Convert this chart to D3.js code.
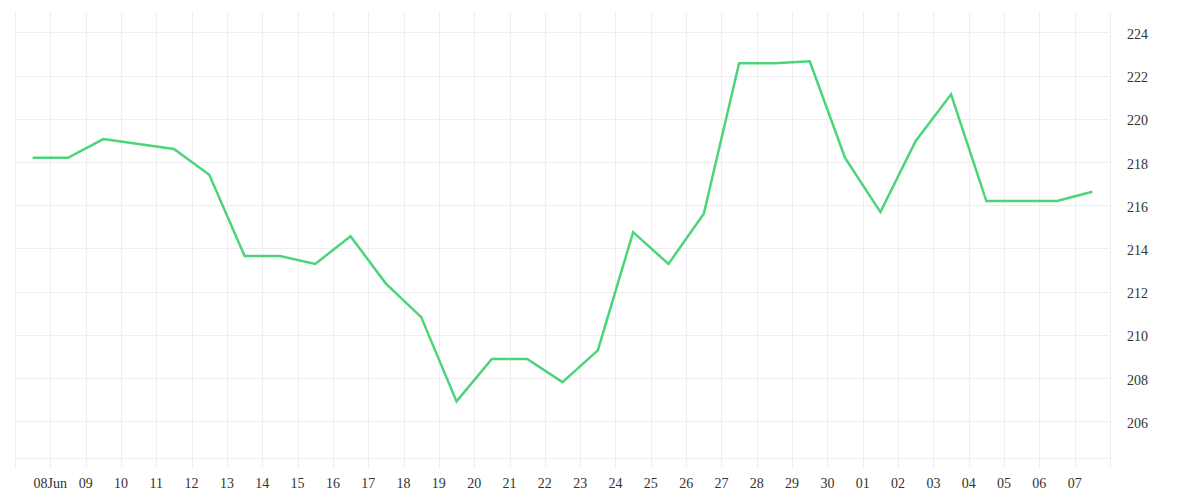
<!DOCTYPE html>
<html>
<head>
<meta charset="utf-8">
<script src="https://cdn.jsdelivr.net/npm/d3@7"></script>
<style>
  html, body { margin: 0; padding: 0; background: #ffffff; }
  svg { display: block; }
  text { font-family: "Liberation Serif", serif; font-size: 14px; fill: #333333; }
</style>
</head>
<body>
<svg id="chart" width="1200" height="500"></svg>
<script>
// Data: one point per day (plotted at midday)
const dates = [
  "2023-06-07","2023-06-08","2023-06-09","2023-06-10","2023-06-11","2023-06-12",
  "2023-06-13","2023-06-14","2023-06-15","2023-06-16","2023-06-17","2023-06-18",
  "2023-06-19","2023-06-20","2023-06-21","2023-06-22","2023-06-23","2023-06-24",
  "2023-06-25","2023-06-26","2023-06-27","2023-06-28","2023-06-29","2023-06-30",
  "2023-07-01","2023-07-02","2023-07-03","2023-07-04","2023-07-05","2023-07-06",
  "2023-07-07"
];
const values = [
  218.19, 218.19, 219.06, 218.83, 218.60, 217.41,
  213.65, 213.65, 213.28, 214.56, 212.37, 210.82,
  206.92, 208.88, 208.88, 207.81, 209.28, 214.75,
  213.28, 215.60, 222.57, 222.57, 222.66, 218.19,
  215.68, 218.97, 221.13, 216.19, 216.19, 216.19,
  216.62
];
// x tick dates (midnight) and their labels
const tickDates = [
  "2023-06-08","2023-06-09","2023-06-10","2023-06-11","2023-06-12","2023-06-13",
  "2023-06-14","2023-06-15","2023-06-16","2023-06-17","2023-06-18","2023-06-19",
  "2023-06-20","2023-06-21","2023-06-22","2023-06-23","2023-06-24","2023-06-25",
  "2023-06-26","2023-06-27","2023-06-28","2023-06-29","2023-06-30","2023-07-01",
  "2023-07-02","2023-07-03","2023-07-04","2023-07-05","2023-07-06","2023-07-07"
];
const tickLabels = [
  "08Jun","09","10","11","12","13","14","15","16","17","18","19","20","21","22",
  "23","24","25","26","27","28","29","30","01","02","03","04","05","06","07"
];
const yTicks = [206, 208, 210, 212, 214, 216, 218, 220, 222, 224];
const yDomain = [204.30, 224.94];
const xDomain = ["2023-06-07", "2023-07-08"];

(function () {
const svg = d3.select("#chart");
const mLeft = 15, mRight = 1110, mTop = 12, mBottom = 458;
const parse = d3.utcParse("%Y-%m-%d");

const x = d3.scaleUtc()
  .domain(xDomain.map(parse))
  .range([mLeft, mRight]);
const y = d3.scaleLinear().domain(yDomain).range([mBottom, mTop]);

const gridColor = "#eeeeee";

// horizontal grid lines
svg.append("g").selectAll("line").data(yTicks).join("line")
  .attr("x1", mLeft).attr("x2", mRight)
  .attr("y1", d => Math.round(y(d)) + 0.5).attr("y2", d => Math.round(y(d)) + 0.5)
  .attr("stroke", gridColor).attr("stroke-width", 1);

// bottom border
svg.append("line")
  .attr("x1", mLeft).attr("x2", mRight)
  .attr("y1", mBottom + 0.5).attr("y2", mBottom + 0.5)
  .attr("stroke", gridColor).attr("stroke-width", 1);

// vertical grid lines at each day boundary (plus edges)
const dayBounds = d3.utcDay.range(parse(xDomain[0]), d3.utcDay.offset(parse(xDomain[1]), 1));
svg.append("g").selectAll("line").data(dayBounds).join("line")
  .attr("x1", d => Math.round(x(d)) + 0.5).attr("x2", d => Math.round(x(d)) + 0.5)
  .attr("y1", mTop).attr("y2", mBottom + 10)
  .attr("stroke", gridColor).attr("stroke-width", 1);

// x axis labels
svg.append("g").selectAll("text").data(tickDates).join("text")
  .attr("x", d => x(parse(d)))
  .attr("y", 488)
  .attr("text-anchor", "middle")
  .text((d, i) => tickLabels[i]);

// y axis labels (right)
svg.append("g").selectAll("text").data(yTicks).join("text")
  .attr("x", 1127)
  .attr("y", d => y(d))
  .attr("dy", "0.47em")
  .attr("text-anchor", "start")
  .text(d => d);

// line
const pts = dates.map((d, i) => ({ t: d3.utcHour.offset(parse(d), 12), v: values[i] }));
const line = d3.line().x(d => x(d.t)).y(d => y(d.v));
svg.append("path")
  .datum(pts)
  .attr("d", line)
  .attr("fill", "none")
  .attr("stroke", "#4cd47b")
  .attr("stroke-width", 2.5)
  .attr("stroke-linejoin", "miter");
})();
</script>
</body>
</html>
